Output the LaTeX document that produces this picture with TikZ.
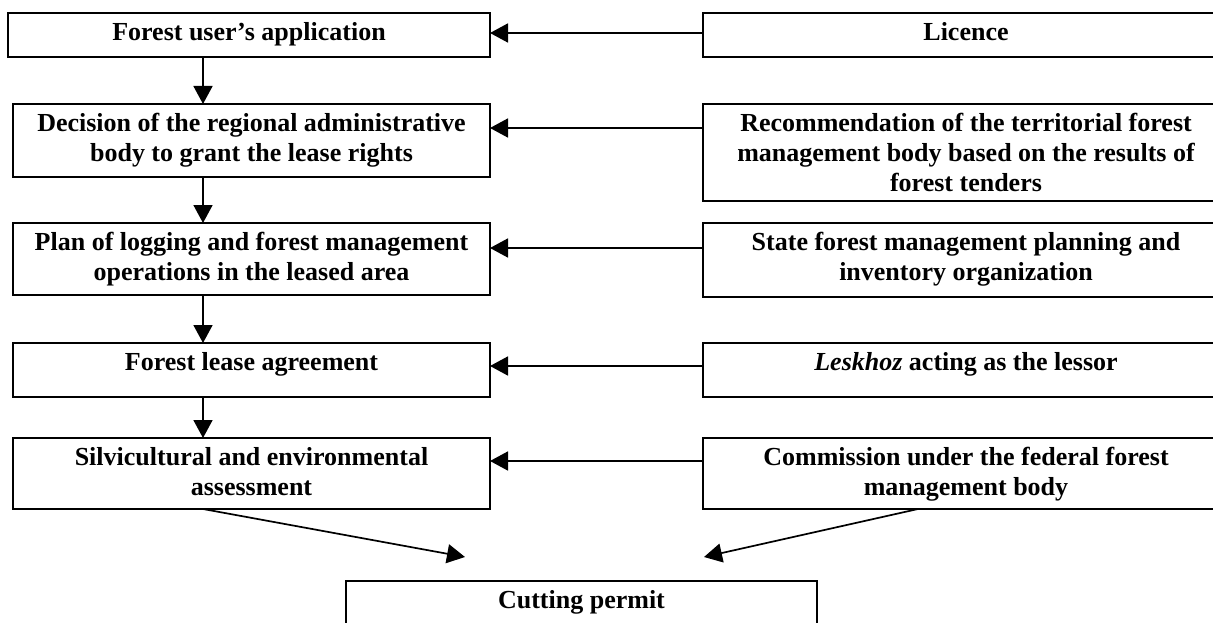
\documentclass[tikz,border=0pt]{standalone}
\usepackage{fontspec}
\setmainfont{Liberation Serif}
\usetikzlibrary{arrows.meta}
\newcommand{\bxt}[3]{\parbox[c][#2][t]{#1}{\centering\fontsize{26pt}{30pt}\selectfont\bfseries\rule{0pt}{27.5pt}#3}}
\begin{document}
\begin{tikzpicture}[x=1pt,y=-1pt,
  bx/.style={draw, line width=1.8pt, inner sep=0pt, outer sep=0pt, anchor=north west},
  arr/.style={line width=1.7pt, -{Triangle[length=18pt,width=19pt]}}]
\clip (0,0) rectangle (1213,623);
\fill[white] (0,0) rectangle (1213,623);
% left column
\node[bx] (A) at (8,13)   {\bxt{482pt}{44pt}{Forest user’s application}};
\node[bx] (B) at (13,104) {\bxt{477pt}{73pt}{Decision of the regional administrative\\ body to grant the lease rights}};
\node[bx] (C) at (13,223) {\bxt{477pt}{72pt}{Plan of logging and forest management\\ operations in the leased area}};
\node[bx] (D) at (13,343) {\bxt{477pt}{54pt}{Forest lease agreement}};
\node[bx] (E) at (13,438) {\bxt{477pt}{71pt}{Silvicultural and environmental\\ assessment}};
% right column
\node[bx] (R1) at (703,13)  {\bxt{526pt}{44pt}{Licence}};
\node[bx] (R2) at (703,104) {\bxt{526pt}{97pt}{Recommendation of the territorial forest\\ management body based on the results of\\ forest tenders}};
\node[bx] (R3) at (703,223) {\bxt{526pt}{74pt}{State forest management planning and\\ inventory organization}};
\node[bx] (R4) at (703,343) {\bxt{526pt}{54pt}{\textit{Leskhoz} acting as the lessor}};
\node[bx] (R5) at (703,438) {\bxt{526pt}{71pt}{Commission under the federal forest\\ management body}};
% bottom
\node[bx] (F) at (346,581) {\bxt{471pt}{60pt}{Cutting permit}};
% vertical arrows
\draw[arr] ([xshift=195pt]A.south west) -- ([xshift=190pt]B.north west);
\draw[arr] ([xshift=190pt]B.south west) -- ([xshift=190pt]C.north west);
\draw[arr] ([xshift=190pt]C.south west) -- ([xshift=190pt]D.north west);
\draw[arr] ([xshift=190pt]D.south west) -- ([xshift=190pt]E.north west);
% horizontal arrows
\draw[arr] ([yshift=-20pt]R1.north west) -- ([yshift=-20pt]A.north east);
\draw[arr] ([yshift=-24pt]R2.north west) -- ([yshift=-24pt]B.north east);
\draw[arr] ([yshift=-25pt]R3.north west) -- ([yshift=-25pt]C.north east);
\draw[arr] ([yshift=-23pt]R4.north west) -- ([yshift=-23pt]D.north east);
\draw[arr] ([yshift=-23pt]R5.north west) -- ([yshift=-23pt]E.north east);
% diagonal arrows towards the cutting permit
\coordinate (t1) at (465,557);
\coordinate (t2) at (704,557);
\draw[arr] ([xshift=190pt]E.south west) -- (t1);
\draw[arr] ([xshift=215pt]R5.south west) -- (t2);
\end{tikzpicture}
\end{document}
